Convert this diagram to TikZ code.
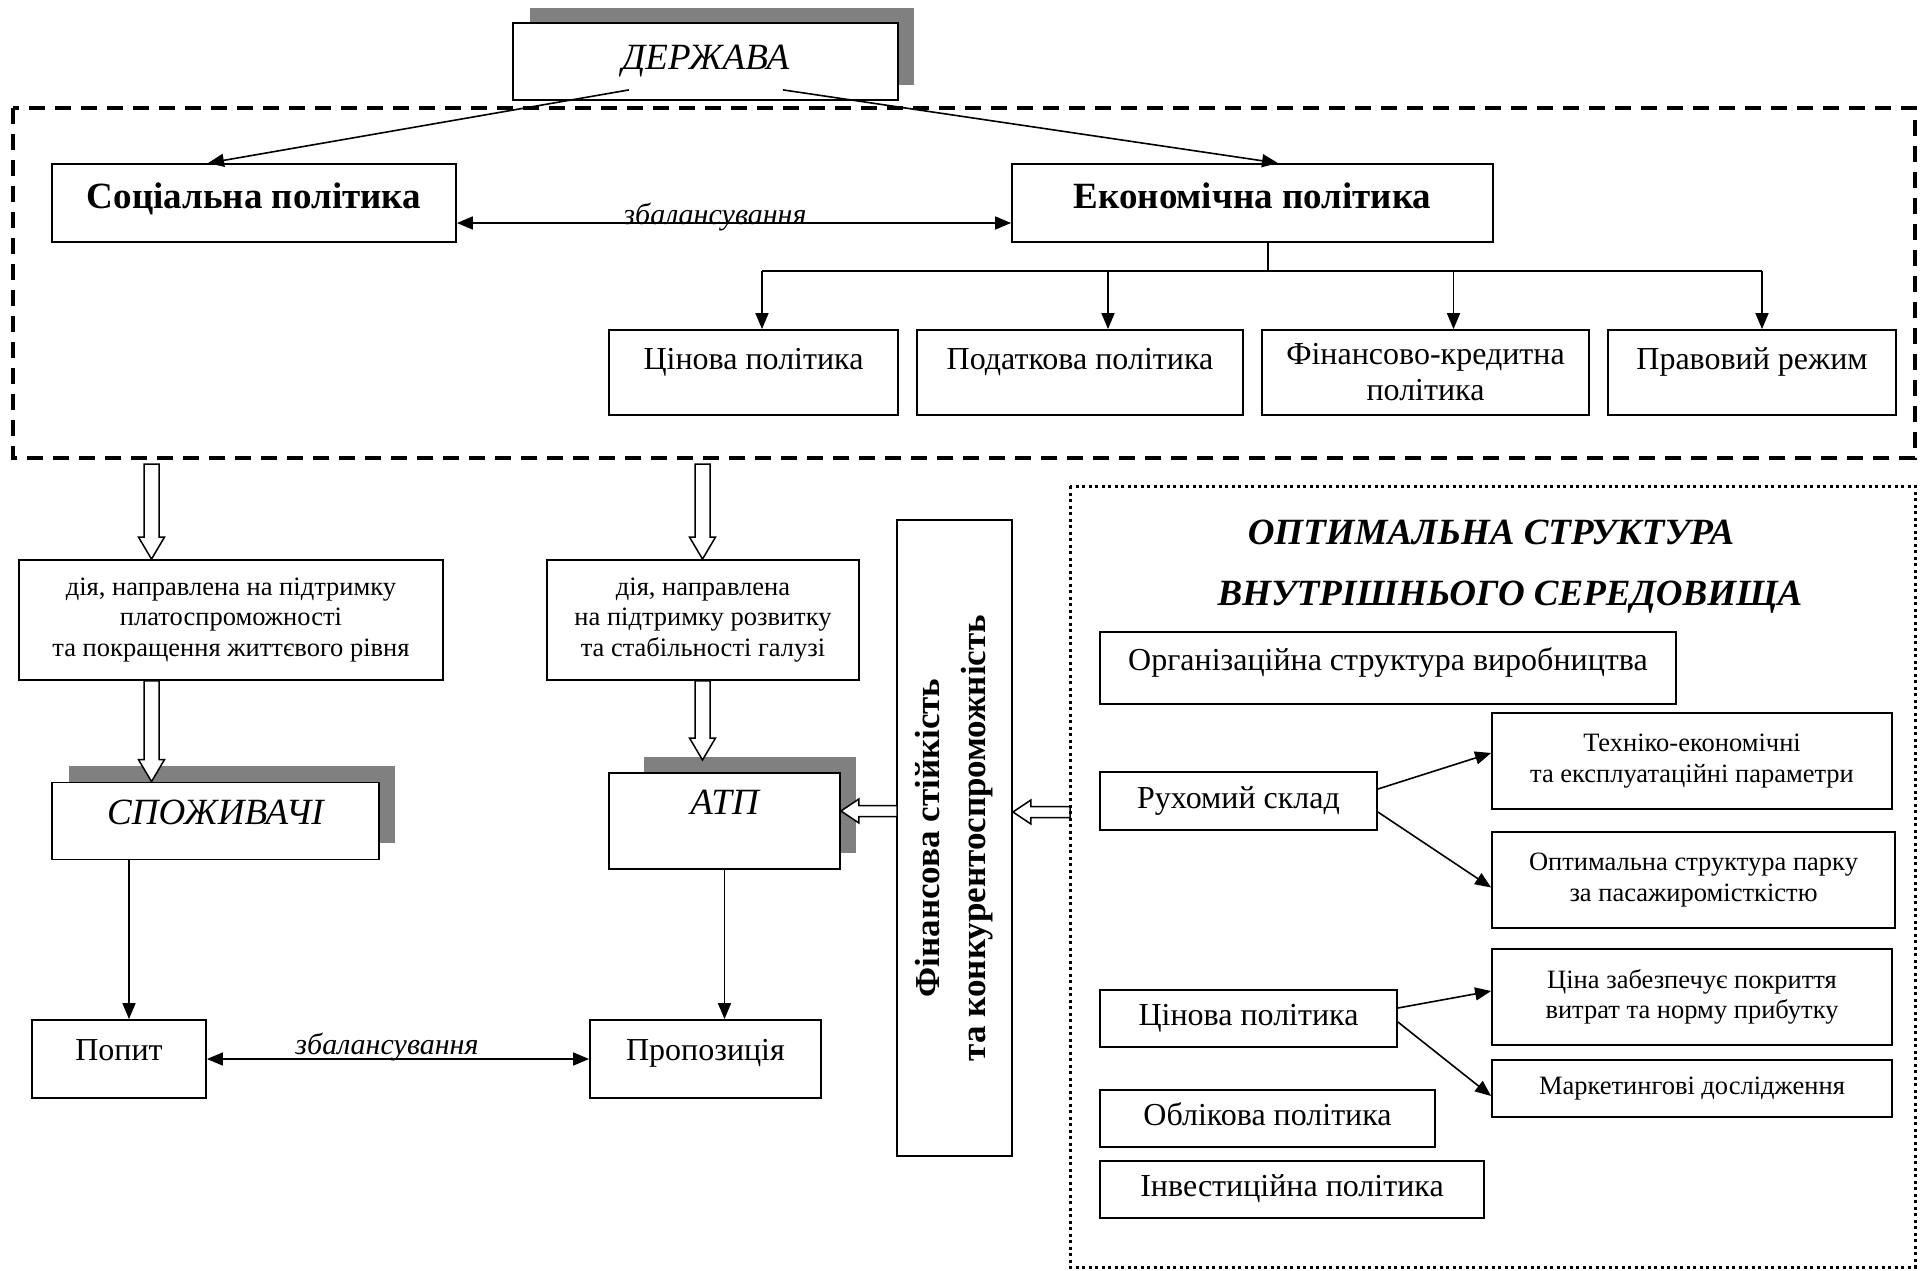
\documentclass[tikz,border=0pt]{standalone}
\usepackage{fontspec}
\setmainfont{Liberation Serif}
\usetikzlibrary{arrows.meta,calc}

\newcommand{\fnorm}{\fontsize{32}{36}\selectfont}
\newcommand{\fsmall}{\fontsize{26.5}{30.5}\selectfont}
\newcommand{\fbig}{\fontsize{37}{44}\selectfont}
\newcommand{\fbal}{\fontsize{30}{34}\selectfont}
\newcommand{\fvert}{\fontsize{35}{46}\selectfont}

% hollow block arrows: start, tip
\newcommand{\hollowv}[2]{%
  \draw[hollow] let \p1=#1, \p2=#2 in
    (\x1-7.5pt,\y1) -- (\x1-7.5pt,\y2+22pt) -- (\x1-13pt,\y2+22pt) -- (\x1,\y2)
    -- (\x1+13pt,\y2+22pt) -- (\x1+7.5pt,\y2+22pt) -- (\x1+7.5pt,\y1) -- cycle;}
\newcommand{\hollowh}[2]{%
  \draw[hollow] let \p1=#1, \p2=#2 in
    (\x1,\y1+5.5pt) -- (\x2+18pt,\y1+5.5pt) -- (\x2+18pt,\y1+12pt) -- (\x2,\y1)
    -- (\x2+18pt,\y1-12pt) -- (\x2+18pt,\y1-5.5pt) -- (\x1,\y1-5.5pt) -- cycle;}

\tikzset{
  box/.style={draw,line width=1.8pt,fill=white,inner sep=0pt,align=center,font=\fnorm},
  sz/.style 2 args={minimum width=#1pt,minimum height=#2pt},
  one/.style={text height=22pt,text depth=8pt},
  smallbox/.style={box,font=\fsmall},
  titlebox/.style={box,font=\fbig\itshape,text height=26pt,text depth=9pt},
  boldbox/.style={box,font=\fbig\bfseries,text height=26pt,text depth=9pt},
  shadowfill/.style={fill=black!50},
  conn/.style={line width=1.6pt},
  arr/.style={conn,-{Triangle[length=16pt,width=13pt]}},
  darr/.style={conn,{Triangle[length=16pt,width=13pt]}-{Triangle[length=16pt,width=13pt]}},
  hollow/.style={line width=1.5pt,fill=white},
  bal/.style={font=\fbal\itshape,inner sep=0pt},
  otitle/.style={font=\fbig\bfseries\itshape,inner sep=0pt},
  dashframe/.style={line width=4pt,dash pattern=on 16pt off 10pt},
  dotframe/.style={line width=3pt,dash pattern=on 3pt off 3.5pt}
}

\begin{document}
\begin{tikzpicture}[x=1pt,y=-1pt]
  \path[use as bounding box] (0,0) rectangle (1927,1271);
  % state level
  \draw[dashframe] (13,108) rectangle (1915,458);
  \fill[shadowfill] (530,8) rectangle (914,85);
  \node[titlebox,sz={385}{77}] (derzh) at (705.5,61.5) {ДЕРЖАВА};
  \node[boldbox,sz={404}{78},text depth=15pt] (soc) at (254,203) {Соціальна політика};
  \node[boldbox,sz={481}{78},text depth=15pt] (econ) at (1252.5,203) {Економічна політика};
  \draw[arr] ([xshift=-76.5pt,yshift=11pt]derzh.south) -- ([xshift=-46pt]soc.north);
  \draw[arr] ([xshift=77.5pt,yshift=11pt]derzh.south) -- ([xshift=25.5pt]econ.north);
  \draw[darr] ([yshift=-20pt]soc.east) -- ([yshift=-20pt]econ.west);
  \node[bal] (bal1) at (715,217) {збалансування};
  \node[box,one,sz={289}{85},text depth=29pt] (cin) at (753.5,372.5) {Цінова політика};
  \node[box,one,sz={326}{85},text depth=29pt] (podat) at (1080,372.5) {Податкова політика};
  \node[box,sz={327}{85}] (fin) at (1425.5,372.5) {Фінансово-кредитна\\політика};
  \node[box,one,sz={288}{85},text depth=29pt] (prav) at (1752,372.5) {Правовий режим};
  \coordinate (bus) at (1268,271);
  \coordinate (b1) at (762,271);
  \coordinate (b2) at (1108,271);
  \coordinate (b3) at (1453.5,271);
  \coordinate (b4) at (1762,271);
  \draw[conn] (econ.south -| bus) -- (bus);
  \draw[conn] (b1) -- (b4);
  \draw[arr] (b1) -- (b1 |- cin.north);
  \draw[arr] (b2) -- (b2 |- podat.north);
  \draw[arr] (b3) -- (b3 |- fin.north);
  \draw[arr] (b4) -- (b4 |- prav.north);
  % consumers and enterprises
  \coordinate (h1) at (151.5,464);
  \coordinate (h2) at (702.5,464);
  \node[smallbox,sz={424}{120}] (act1) at (231,620)
    {дія, направлена на підтримку\\платоспроможності\\та покращення життєвого рівня};
  \node[smallbox,sz={311.5}{120}] (act2) at (703,620)
    {дія, направлена\\на підтримку розвитку\\та стабільності галузі};
  \hollowv{(h1)}{(h1 |- act1.north)}
  \hollowv{(h2)}{(h2 |- act2.north)}
  \fill[shadowfill] (69,765.5) rectangle (395,842.5);
  \node[titlebox,sz={327}{77},text depth=19pt] (cons) at (215.5,821) {СПОЖИВАЧІ};
  \fill[shadowfill] (644,757) rectangle (856,853);
  \node[titlebox,sz={231}{96},text depth=39pt] (atp) at (724.5,821) {АТП};
  \coordinate (h2b) at (702.5,760);
  \hollowv{(h1 |- act1.south)}{(h1 |- cons.north)}
  \hollowv{(h2 |- act2.south)}{(h2b)}
  \node[box,one,sz={174}{78},text depth=20pt] (popyt) at (119,1059) {Попит};
  \node[box,one,sz={231}{78},text depth=20pt] (prop) at (705.5,1059) {Пропозиція};
  \draw[arr] ([xshift=-86.5pt]cons.south) -- ([xshift=10pt]popyt.north);
  \draw[arr] (atp.south) -- (atp.south |- prop.north);
  \draw[darr] (popyt.east) -- (prop.west);
  \node[bal] (bal2) at (387,1046.5) {збалансування};
  \node[box,rotate=90,sz={636}{115},font=\fvert\bfseries] (fsk) at (954.5,838)
    {Фінансова стійкість\\та конкурентоспроможність};
  \coordinate (h3) at (897,811);
  \coordinate (h4) at (1070,812);
  \hollowh{(h3)}{(h3 -| atp.east)}
  \hollowh{(h4)}{(h4 -| fsk.south)}
  % internal environment
  \draw[dotframe] (1070,486) rectangle (1915,1267);
  \node[otitle] (ot1) at (1491,532) {ОПТИМАЛЬНА СТРУКТУРА};
  \node[otitle] (ot2) at (1510,597) {ВНУТРІШНЬОГО СЕРЕДОВИЩА};
  \node[box,one,sz={576}{72},text depth=18pt] (org) at (1388,668) {Організаційна структура виробництва};
  \node[box,one,sz={277}{58}] (ruh) at (1238.5,801) {Рухомий склад};
  \node[smallbox,sz={400}{96}] (tech) at (1692,761) {Техніко-економічні\\та експлуатаційні параметри};
  \node[smallbox,sz={403}{96}] (optp) at (1693.5,880) {Оптимальна структура парку\\за пасажиромісткістю};
  \node[box,one,sz={297}{57}] (cinr) at (1248.5,1018.5) {Цінова політика};
  \node[smallbox,sz={400}{96}] (cina) at (1692,997) {Ціна забезпечує покриття\\витрат та норму прибутку};
  \node[smallbox,sz={400}{57},text height=18.5pt,text depth=6.6pt] (mark) at (1692,1088.5) {Маркетингові дослідження};
  \node[box,one,sz={335}{57}] (oblik) at (1267.5,1118.5) {Облікова політика};
  \node[box,one,sz={384}{57}] (inv) at (1292,1189.5) {Інвестиційна політика};
  \draw[arr] ([yshift=12pt]ruh.east) -- ([yshift=8pt]tech.west);
  \draw[arr] ([yshift=-11pt]ruh.east) -- ([yshift=-7.5pt]optp.west);
  \draw[arr] ([yshift=10.5pt]cinr.east) -- ([yshift=6pt]cina.west);
  \draw[arr] ([yshift=-3.5pt]cinr.east) -- ([yshift=-7.5pt]mark.west);
\end{tikzpicture}
\end{document}
